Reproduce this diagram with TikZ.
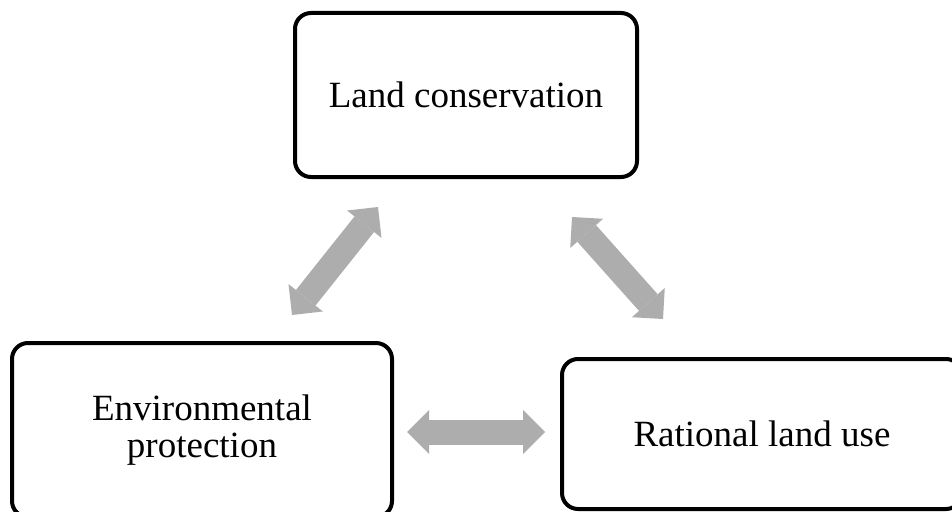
\documentclass[tikz,border=0pt]{standalone}
\usepackage{fontspec}
\setmainfont{Liberation Serif}
\usetikzlibrary{arrows.meta}
\definecolor{arrowgray}{RGB}{173,173,173}

\begin{document}
\begin{tikzpicture}[x=1pt, y=-1pt,
  box/.style={draw, line width=4pt, rounded corners=16pt, align=center, font=\fontsize{37}{37}\selectfont},
  link/.style={arrowgray, line width=25pt, {Triangle[length=22pt, width=44pt, line width=0pt]}-{Triangle[length=22pt, width=44pt, line width=0pt]}}]

\useasboundingbox (0,0) rectangle (952,511);
\clip (0,0) rectangle (952,511);

\node[box, minimum width=342pt, minimum height=164pt] (conservation) at (466,95) {Land conservation};
\node[box, minimum width=380pt, minimum height=174pt] (protection) at (202,430) {Environmental\\protection};
\node[box, minimum width=400pt, minimum height=150pt] (landuse) at (762,434) {Rational land use};

\coordinate (lefttop) at (378,207);
\coordinate (leftbottom) at (292,315);
\coordinate (righttop) at (572,217);
\coordinate (rightbottom) at (663,319);
\coordinate (midleft) at (407,432);
\coordinate (midright) at (545,432);

\draw[link] (leftbottom) -- (lefttop);

\draw[link] (righttop) -- (rightbottom);

\draw[link] (midleft) -- (midright);

\end{tikzpicture}
\end{document}
